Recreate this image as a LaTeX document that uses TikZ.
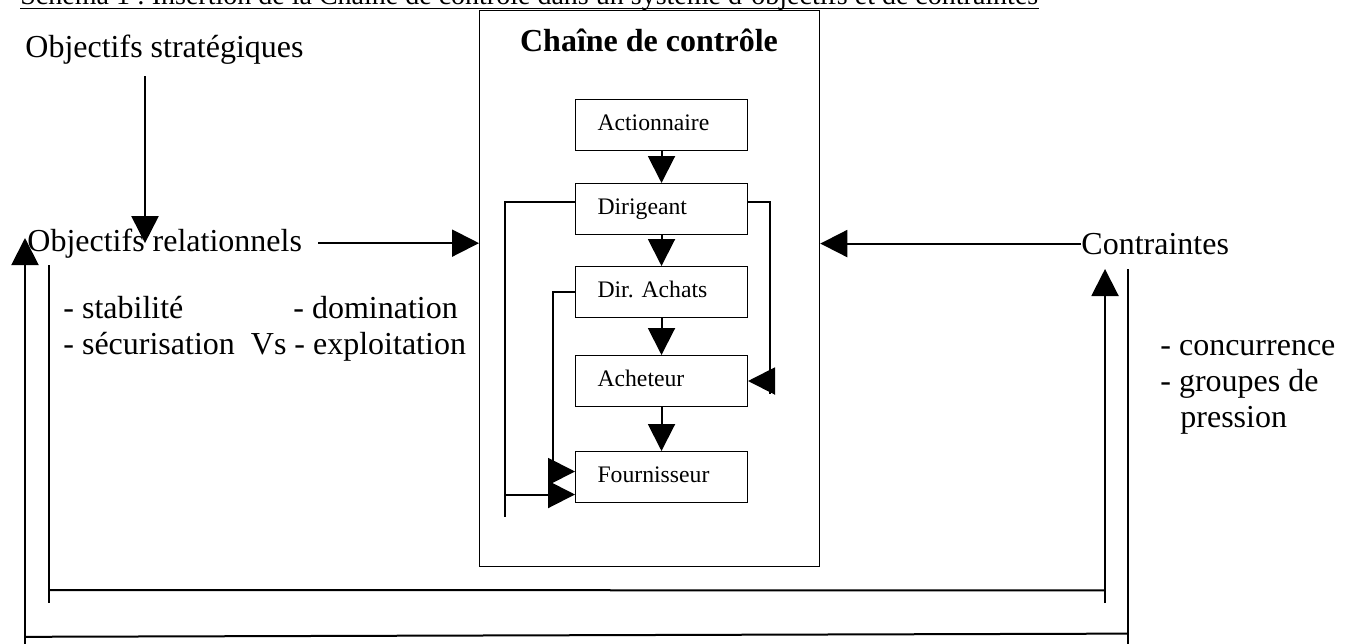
\documentclass[tikz,border=0pt]{standalone}
\usepackage{fontspec}
\setmainfont{Liberation Serif}
\usetikzlibrary{arrows.meta, calc, positioning}
\newcommand{\grandtxt}{\fontsize{16}{18}\selectfont}
\newcommand{\petittxt}{\fontsize{11.85}{13}\selectfont}
\newcommand{\titretxt}{\fontsize{14}{16}\selectfont}
\frenchspacing

\begin{document}
\begin{tikzpicture}[x = 0.5pt, y = -0.5pt,
  txt/.style = {inner sep = 0, anchor = base west, font = \grandtxt},
  box/.style = {draw, line width = .5pt, minimum height = 25.5pt, inner xsep = 11pt, inner ysep = 0,
    text width = 64pt, align = left, text height = 8pt, text depth = 2.5pt, font = \petittxt},
  ln/.style = {line width = 1pt},
  arr/.style = {ln, -{Triangle[length = 13.5pt, width = 13.5pt]}}]
\useasboundingbox (0,0) rectangle (1348,643);
% titre (coupe en haut)
\node[inner sep = 0, anchor = base west, font = \titretxt] (titre) at (20,4)
  {Schéma 1 : Insertion de la Chaîne de contrôle dans un système d'objectifs et de contraintes};
\draw[line width = .75pt] ([yshift = -2.25pt]titre.base west) -- ([yshift = -2.25pt]titre.base east);

% chaine de controle
\node[draw, line width = .65pt, anchor = north west, inner sep = 0, minimum width = 170pt, minimum height = 278pt] (chain) at (479,10) {};
\node[inner sep = 0, anchor = base, font = \grandtxt\bfseries] (ctitre) at (649,51) {Chaîne de contrôle};
\node[box, anchor = north west] (act) at (575,99) {Actionnaire};
\node[box, below = 16pt of act] (dir) {Dirigeant};
\node[box, below = 15.5pt of dir] (achats) {Dir. Achats};
\node[box, below = 18.5pt of achats] (acht) {Acheteur};
\node[box, below = 22pt of acht] (fourn) {Fournisseur};
\foreach \i/\j in {act/dir, dir/achats, achats/acht, acht/fourn}{
\draw[arr] (\i) -- (\j);
}
\coordinate (fa) at ([yshift = 2.75pt]fourn.west);
\coordinate (fb) at ([yshift = -8.75pt]fourn.west);
\draw[ln] ([yshift = 3.5pt]dir.west) -| ($(fb)+(-35pt,-11pt)$);
\draw[arr] ($(fb)+(-35pt,0)$) -- (fb);
\draw[arr] (achats.west) -| ($(fa)+(-11pt,0)$) -- (fa);
\draw[ln] ([yshift = 3.5pt]dir.east) -| ($(acht.east)+(11pt,-6.5pt)$);
\draw[arr] ($(acht.east)+(11pt,0)$) -- (acht.east);

% objectifs et contraintes
\node[txt] (strat) at (25,57) {Objectifs stratégiques};
\node[txt] (rel) at (27,251) {Objectifs relationnels};
\node[txt] (contr) at (1081,254) {Contraintes};
\coordinate (s1) at (145,76);
\draw[arr] (s1) -- (s1 |- rel.center);
\draw[arr] ([xshift = 8pt]rel.east) -- (rel.east -| chain.west);
\draw[arr] (contr.west) -- (contr.west -| chain.east);

\node[txt] (stab) at (63,318) {- stabilité};
\node[txt] (dom) at (293,318) {- domination};
\node[txt] (secu) at (63,354) {- sécurisation\ \ Vs - exploitation};
\node[txt] (conc) at (1160,355) {- concurrence};
\node[txt] (grp) at (1160,391) {- groupes de};
\node[txt] (pres) at (1180,427) {pression};

% boucles
\coordinate (i1) at (49,265);
\coordinate (i2) at (49,603);
\coordinate (i3) at (1105,603);
\coordinate (i4) at (1105,269);
\coordinate (o1) at (1128,269);
\coordinate (o2) at (1128,650);
\coordinate (o3) at (25,650);
\coordinate (o4) at (25,238);
\draw[ln] (i1) -- (i2);
\draw[ln] ($(i1)!.962!(i2)$) -- ($(i4)!.962!(i3)$);
\draw[arr] (i3) -- (i4);
\draw[ln] (o1) -- (o2);
\draw[ln] ($(o1)!.957!(o2)$) -- ($(o4)!.968!(o3)$);
\draw[arr] (o3) -- (o4);
\end{tikzpicture}
\end{document}
